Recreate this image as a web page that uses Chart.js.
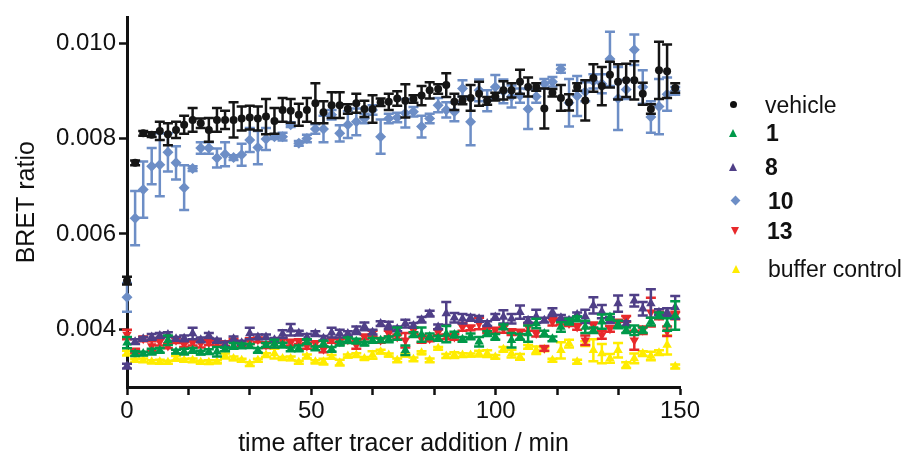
<!DOCTYPE html>
<html lang="en">
<head>
    <meta charset="UTF-8">
    <title>BRET ratio over time</title>
    <script src="https://cdn.jsdelivr.net/npm/chart.js"></script>
    <style>
        body { margin: 0; background: #fff; font-family: "Liberation Sans", Arial, sans-serif; }
        #wrap { position: relative; width: 902px; height: 459px; }
        .leg { position: absolute; height: 28px; line-height: 28px; font-size: 23px; color: #111; white-space: nowrap; }
        .leg.b { font-weight: bold; }
        .mk { position: absolute; }
        .dot { width: 7px; height: 7px; border-radius: 50%; background: #111; }
        .up { width: 0; height: 0; border-left: 4.5px solid transparent; border-right: 4.5px solid transparent; border-bottom: 8px solid; }
        .down { width: 0; height: 0; border-left: 4.5px solid transparent; border-right: 4.5px solid transparent; border-top: 8px solid; }
        .dia { width: 7px; height: 7px; transform: rotate(45deg); }
    </style>
</head>
<body>
<div id="wrap">
    <canvas id="chart" width="902" height="459"></canvas>

    <div class="mk dot" style="left:730px; top:101px;"></div>
    <div class="leg" style="left:765px; top:91px;">vehicle</div>
    <div class="mk up" style="left:729px; top:129px; border-bottom-color:#00994a;"></div>
    <div class="leg b" style="left:766px; top:119px;">1</div>
    <div class="mk up" style="left:729px; top:163px; border-bottom-color:#4f3f87;"></div>
    <div class="leg b" style="left:765px; top:153px;">8</div>
    <div class="mk dia" style="left:732px; top:197px; background:#6d8ec6;"></div>
    <div class="leg b" style="left:768px; top:187px;">10</div>
    <div class="mk down" style="left:731px; top:227px; border-top-color:#e8292b;"></div>
    <div class="leg b" style="left:767px; top:217px;">13</div>
    <div class="mk up" style="left:732px; top:265px; border-bottom-color:#ffec00;"></div>
    <div class="leg" style="left:768px; top:255px;">buffer control</div>
</div>

<script>
    // time points (min)
    const times = [0, 2.2, 4.4, 6.7, 8.9, 11.1, 13.3, 15.5, 17.8, 20.0, 22.2, 24.4, 26.6, 28.9, 31.1, 33.3, 35.5, 37.7, 40.0, 42.2,
        44.4, 46.6, 48.8, 51.1, 53.3, 55.5, 57.7, 59.9, 62.2, 64.4, 66.6, 68.8, 71.0, 73.3, 75.5, 77.7, 79.9, 82.1, 84.4, 86.6,
        88.8, 91.0, 93.2, 95.5, 97.7, 99.9, 102.1, 104.3, 106.6, 108.8, 111.0, 113.2, 115.4, 117.7, 119.9, 122.1, 124.3, 126.5, 128.8, 131.0,
        133.2, 135.4, 137.6, 139.9, 142.1, 144.3, 146.5, 148.7];

    const vehicle = [0.00502, 0.00749, 0.00811, 0.00808, 0.00816, 0.00809, 0.00818, 0.00829, 0.00839, 0.00832,
        0.00818, 0.00839, 0.00839, 0.00839, 0.00842, 0.00844, 0.00842, 0.00846, 0.00837, 0.0086,
        0.00858, 0.0085, 0.0086, 0.00874, 0.00855, 0.0087, 0.0087, 0.00862, 0.00874, 0.00862,
        0.00862, 0.00876, 0.00877, 0.00884, 0.00879, 0.00883, 0.0089, 0.00901, 0.00904, 0.00912,
        0.00877, 0.0088, 0.00885, 0.00894, 0.00879, 0.00888, 0.00901, 0.00901, 0.00919, 0.00908,
        0.00908, 0.00863, 0.00896, 0.00885, 0.00876, 0.00908, 0.0088, 0.00927, 0.0091, 0.00934,
        0.00919, 0.00922, 0.00922, 0.00894, 0.00862, 0.00943, 0.00941, 0.00906];
    const vehicleErr = [0.00008, 0.00005, 0.00005, 0.00005, 0.00019, 0.00023, 0.00017, 0.00019, 0.00025, 0.0001,
        0.00025, 0.00025, 0.00019, 0.00037, 0.00025, 0.00025, 0.00025, 0.00037, 0.00027, 0.00025,
        0.00025, 0.00023, 0.00025, 0.00042, 0.00023, 0.00027, 0.00027, 0.0001, 0.0002, 0.00017,
        0.00029, 0.00008, 0.00017, 0.00015, 0.00035, 0.00008, 0.0002, 0.00017, 0.0001, 0.00025,
        0.00017, 0.00008, 0.00027, 0.00025, 0.00008, 0.00008, 0.00019, 0.00015, 0.00025, 0.0002,
        0.00008, 0.00042, 0.00008, 0.00027, 0.00017, 0.00008, 0.00042, 0.00029, 0.0004, 0.00027,
        0.00037, 0.00035, 0.0004, 0.00023, 0.0001, 0.0006, 0.00056, 0.0001];

    const cpd1 = [0.00372, 0.00349, 0.00349, 0.00353, 0.00356, 0.00377, 0.00353, 0.00353, 0.00356, 0.00351,
        0.00353, 0.00353, 0.00358, 0.00365, 0.00365, 0.00365, 0.00356, 0.00367, 0.0037, 0.00367,
        0.00358, 0.0036, 0.00374, 0.0036, 0.0037, 0.00358, 0.0037, 0.00377, 0.00375, 0.0037,
        0.00377, 0.00377, 0.00379, 0.00391, 0.00356, 0.00389, 0.00389, 0.00385, 0.00381, 0.0039,
        0.00389, 0.00379, 0.00385, 0.00374, 0.00391, 0.00384, 0.00405, 0.00377, 0.00384, 0.00391,
        0.00412, 0.00391, 0.0038, 0.00405, 0.00416, 0.00422, 0.00405, 0.00398, 0.00416, 0.00426,
        0.0041, 0.00398, 0.00398, 0.00398, 0.00416, 0.00429, 0.0041, 0.00429];
    const cpd1Err = [0.00012, 0.00005, 0.00004, 0.00006, 0.00005, 0.0001, 0.00004, 0.00006, 0.00005, 0.00004,
        0.00005, 0.0001, 0.00004, 0.00006, 0.00005, 0.00004, 0.00005, 0.00004, 0.00008, 0.00005,
        0.00004, 0.00006, 0.00005, 0.00004, 0.00006, 0.00005, 0.00004, 0.00006, 0.00005, 0.00004,
        0.00005, 0.00004, 0.00006, 0.00013, 0.0001, 0.00005, 0.00015, 0.00006, 0.00005, 0.00017,
        0.00006, 0.00005, 0.00006, 0.0001, 0.00005, 0.00006, 0.00005, 0.00015, 0.00006, 0.00017,
        0.0001, 0.00006, 0.00005, 0.0001, 0.00006, 0.00005, 0.00013, 0.00006, 0.00015, 0.00006,
        0.00008, 0.00006, 0.0001, 0.00006, 0.00008, 0.00006, 0.00013, 0.0003];

    const cpd8 = [0.00323, 0.00374, 0.0038, 0.00384, 0.00387, 0.00389, 0.0038, 0.00381, 0.00391, 0.00378,
        0.00387, 0.00376, 0.00368, 0.0038, 0.00372, 0.00391, 0.00384, 0.00384, 0.00378, 0.0039,
        0.00399, 0.00392, 0.00384, 0.00391, 0.00381, 0.00393, 0.00391, 0.00391, 0.00398, 0.00406,
        0.00394, 0.00412, 0.00408, 0.00401, 0.00412, 0.00408, 0.0042, 0.00433, 0.00405, 0.00433,
        0.00424, 0.00422, 0.00424, 0.00422, 0.00412, 0.00426, 0.00426, 0.00422, 0.00436, 0.00419,
        0.00427, 0.00419, 0.00436, 0.00424, 0.00419, 0.00431, 0.00427, 0.0045, 0.00437, 0.00419,
        0.00454, 0.00412, 0.0046, 0.00443, 0.00454, 0.00436, 0.00436, 0.00446];
    const cpd8Err = [0.00005, 0.00005, 0.00004, 0.00006, 0.00005, 0.00005, 0.00004, 0.00006, 0.00012, 0.00005,
        0.00005, 0.00004, 0.00006, 0.00005, 0.00004, 0.00012, 0.00005, 0.00005, 0.00004, 0.00008,
        0.00012, 0.00005, 0.00006, 0.00005, 0.00005, 0.0001, 0.00008, 0.00005, 0.00008, 0.00008,
        0.00005, 0.00005, 0.00008, 0.00005, 0.00008, 0.00005, 0.00006, 0.00006, 0.00005, 0.00024,
        0.0001, 0.0001, 0.00006, 0.00006, 0.00005, 0.00006, 0.00014, 0.0001, 0.00014, 0.00006,
        0.00014, 0.00005, 0.00008, 0.00006, 0.00005, 0.00004, 0.00014, 0.00017, 0.00014, 0.00006,
        0.00017, 0.00005, 0.00012, 0.00014, 0.0003, 0.00006, 0.00008, 0.00024];

    const cpd10 = [0.00467, 0.00633, 0.00693, 0.00742, 0.00745, 0.00771, 0.00749, 0.00697, 0.00737, 0.0078,
        0.0078, 0.00759, 0.00767, 0.0076, 0.00766, 0.00797, 0.00781, 0.00799, 0.00804, 0.00804,
        0.00829, 0.0079, 0.008, 0.0082, 0.0082, 0.0085, 0.00811, 0.00829, 0.00835, 0.00842,
        0.0086, 0.00804, 0.00842, 0.00844, 0.00853, 0.00856, 0.00825, 0.00842, 0.0087, 0.0086,
        0.00856, 0.00905, 0.00835, 0.00901, 0.00879, 0.00908, 0.00899, 0.00888, 0.0089, 0.00862,
        0.00888, 0.00915, 0.00919, 0.00946, 0.00875, 0.00889, 0.00898, 0.0092, 0.00915, 0.00967,
        0.00884, 0.00903, 0.00986, 0.00908, 0.00845, 0.00867, 0.00893, 0.009];
    const cpd10Err = [0.0003, 0.00057, 0.00059, 0.00038, 0.00066, 0.0004, 0.00035, 0.00047, 0.00005, 0.00012,
        0.00012, 0.0002, 0.00025, 0.00005, 0.00023, 0.00025, 0.00035, 0.00023, 0.00005, 0.00008,
        0.00005, 0.00005, 0.00008, 0.0001, 0.00028, 0.0001, 0.00017, 0.00028, 0.00028, 0.0001,
        0.0001, 0.00036, 0.0001, 0.0001, 0.0003, 0.0001, 0.00023, 0.0001, 0.00015, 0.00016,
        0.0002, 0.00017, 0.00049, 0.00023, 0.00022, 0.00025, 0.00025, 0.00023, 0.00015, 0.00042,
        0.00013, 0.0001, 0.0001, 0.00008, 0.0005, 0.00042, 0.0002, 0.00015, 0.0002, 0.00057,
        0.00066, 0.0002, 0.00032, 0.00035, 0.00033, 0.00058, 0.00035, 0.00008];

    const cpd13 = [0.00389, 0.00355, 0.0038, 0.00365, 0.00374, 0.00365, 0.00377, 0.00368, 0.00372, 0.0037,
        0.00372, 0.00372, 0.0037, 0.0037, 0.0037, 0.00375, 0.00378, 0.00367, 0.0037, 0.00377,
        0.00372, 0.00374, 0.00365, 0.0037, 0.00358, 0.00377, 0.00374, 0.00378, 0.00367, 0.00384,
        0.00391, 0.00377, 0.00391, 0.00384, 0.00377, 0.00398, 0.0038, 0.0038, 0.00394, 0.00384,
        0.00384, 0.00405, 0.00403, 0.00412, 0.00398, 0.00398, 0.00401, 0.00394, 0.00394, 0.00405,
        0.00391, 0.0036, 0.00416, 0.00416, 0.00412, 0.00405, 0.00377, 0.00408, 0.00388, 0.00401,
        0.00412, 0.00422, 0.00377, 0.00398, 0.00436, 0.00429, 0.00396, 0.00429];
    const cpd13Err = [0.0001, 0.00004, 0.00005, 0.0001, 0.00008, 0.00005, 0.00006, 0.00005, 0.00006, 0.00008,
        0.00005, 0.00006, 0.00005, 0.0001, 0.00005, 0.00006, 0.00005, 0.00006, 0.00008, 0.00005,
        0.00006, 0.00005, 0.00006, 0.00005, 0.00006, 0.00005, 0.00006, 0.00005, 0.00008, 0.00005,
        0.00006, 0.00005, 0.00006, 0.00005, 0.00015, 0.00006, 0.00008, 0.00005, 0.00006, 0.00005,
        0.00006, 0.00008, 0.00005, 0.00012, 0.00006, 0.00005, 0.00008, 0.00006, 0.00005, 0.00008,
        0.00006, 0.00005, 0.00008, 0.00006, 0.00005, 0.00006, 0.0001, 0.00006, 0.00008, 0.00006,
        0.00008, 0.00006, 0.0002, 0.00008, 0.0003, 0.00008, 0.0001, 0.00008];

    const buffer = [0.0035, 0.00335, 0.00335, 0.00332, 0.00332, 0.00331, 0.00339, 0.00335, 0.00335, 0.00331,
        0.00331, 0.00332, 0.00344, 0.00339, 0.00335, 0.00327, 0.00335, 0.00346, 0.00349, 0.00339,
        0.00339, 0.00331, 0.00343, 0.00332, 0.00332, 0.00342, 0.0033, 0.00344, 0.00346, 0.00339,
        0.00346, 0.00353, 0.00346, 0.00335, 0.00346, 0.00337, 0.00351, 0.00335, 0.0036, 0.00344,
        0.00346, 0.00346, 0.00346, 0.00349, 0.00349, 0.00342, 0.00358, 0.00349, 0.00342, 0.00363,
        0.00356, 0.00358, 0.00335, 0.00356, 0.0037, 0.00332, 0.0037, 0.00356, 0.00349, 0.00339,
        0.00356, 0.00325, 0.00339, 0.00349, 0.00344, 0.00351, 0.00367, 0.00322];
    const bufferErr = [0.00005, 0.00003, 0.00004, 0.00003, 0.00004, 0.00003, 0.00005, 0.00003, 0.00004, 0.00003,
        0.00004, 0.00003, 0.00005, 0.00004, 0.00003, 0.00004, 0.00003, 0.00004, 0.0001, 0.00003,
        0.00004, 0.00003, 0.00004, 0.00003, 0.00006, 0.00004, 0.00006, 0.00003, 0.00004, 0.00003,
        0.00008, 0.00004, 0.00003, 0.00004, 0.00003, 0.00004, 0.00003, 0.00004, 0.00003, 0.00004,
        0.00006, 0.00004, 0.00003, 0.00006, 0.00007, 0.00004, 0.00005, 0.00008, 0.00006, 0.00004,
        0.00008, 0.00004, 0.00003, 0.00017, 0.00008, 0.00004, 0.00005, 0.00023, 0.0002, 0.00009,
        0.00015, 0.00006, 0.0001, 0.00005, 0.00009, 0.00005, 0.0002, 0.00004];

    const xTicks = [0, 16.667, 33.333, 50, 66.667, 83.333, 100, 116.667, 133.333, 150];
    const xTickLabels = ['0', '', '', '50', '', '', '100', '', '', '150'];
    const yTicks = [0.004, 0.006, 0.008, 0.010];
    const yTickLabels = ['0.004', '0.006', '0.008', '0.010'];

    const pts = vals => times.map((t, i) => ({ x: t, y: vals[i] }));

    // draws SEM bars under each dataset's points
    const errorBars = {
        id: 'errorBars',
        beforeDatasetDraw(chart, args) {
            const ds = chart.data.datasets[args.index];
            if (!ds.errors) return;
            const ctx = chart.ctx, ys = chart.scales.y;
            ctx.save();
            ctx.strokeStyle = ds.barColor;
            ctx.lineWidth = 2.5;
            args.meta.data.forEach((pt, i) => {
                const v = ds.data[i].y, e = ds.errors[i];
                const top = ys.getPixelForValue(v + e), bot = ys.getPixelForValue(v - e);
                ctx.beginPath();
                ctx.moveTo(pt.x, top); ctx.lineTo(pt.x, bot);
                ctx.moveTo(pt.x - 5, top); ctx.lineTo(pt.x + 5, top);
                ctx.moveTo(pt.x - 5, bot); ctx.lineTo(pt.x + 5, bot);
                ctx.stroke();
            });
            ctx.restore();
        }
    };

    Chart.defaults.font.family = '"Liberation Sans", Arial, sans-serif';
    Chart.defaults.color = '#111';

    const series = (label, vals, errs, color, style, radius, rot) => ({
        label, data: pts(vals), errors: errs, barColor: color,
        backgroundColor: color, borderColor: color, borderWidth: 0,
        pointStyle: style, pointRadius: radius, pointRotation: rot || 0,
        showLine: false, clip: false
    });

    new Chart(document.getElementById('chart'), {
        type: 'scatter',
        data: {
            datasets: [
                series('vehicle', vehicle, vehicleErr, '#151515', 'circle', 4),
                series('1', cpd1, cpd1Err, '#00994a', 'triangle', 5.5),
                series('8', cpd8, cpd8Err, '#4f3f87', 'triangle', 5.5),
                series('10', cpd10, cpd10Err, '#6d8ec6', 'rectRot', 5.5),
                series('13', cpd13, cpd13Err, '#e8292b', 'triangle', 5.5, 180),
                series('buffer control', buffer, bufferErr, '#ffec00', 'triangle', 5.5)
            ]
        },
        options: {
            responsive: false,
            animation: false,
            devicePixelRatio: 1,
            layout: { padding: { top: 15, right: 222, left: 0, bottom: 0 } },
            plugins: { legend: { display: false }, tooltip: { enabled: false } },
            scales: {
                x: {
                    type: 'linear', min: 0, max: 150,
                    afterBuildTicks: s => { s.ticks = xTicks.map(v => ({ value: v })); },
                    afterFit: s => { s.height = 72; },
                    ticks: { autoSkip: false, maxRotation: 0, padding: 2, color: '#111', font: { size: 24 },
                        callback: (v, i) => xTickLabels[i] },
                    grid: { drawOnChartArea: false, tickLength: 8, tickWidth: 2.5, tickColor: '#111' },
                    border: { color: '#111', width: 3 },
                    title: { display: true, text: 'time after tracer addition / min', color: '#111',
                        font: { size: 25 }, padding: { top: 0, bottom: 0 } }
                },
                y: {
                    min: 0.00279, max: 0.01054,
                    afterBuildTicks: s => { s.ticks = yTicks.map(v => ({ value: v })); },
                    afterFit: s => { s.width = 127; },
                    ticks: { autoSkip: false, padding: 3, color: '#111', font: { size: 24 },
                        callback: (v, i) => yTickLabels[i] },
                    grid: { drawOnChartArea: false, tickLength: 8, tickWidth: 2.5, tickColor: '#111' },
                    border: { color: '#111', width: 3 },
                    title: { display: true, text: 'BRET ratio', color: '#111',
                        font: { size: 25 }, padding: { top: 12, bottom: 0 } }
                }
            }
        },
        plugins: [errorBars]
    });
</script>
</body>
</html>
